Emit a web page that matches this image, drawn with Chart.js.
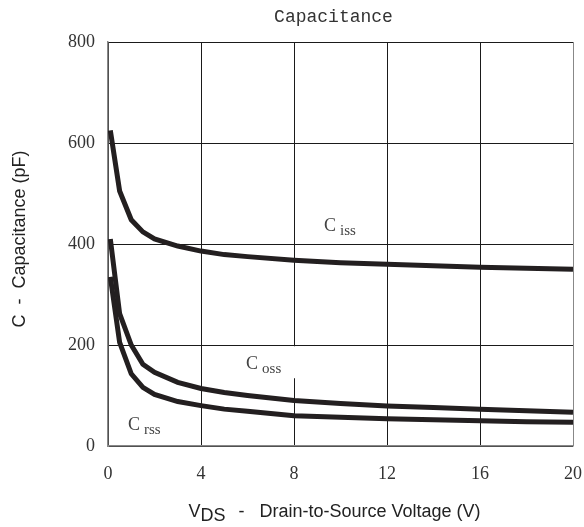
<!DOCTYPE html>
<html>
<head>
<meta charset="utf-8">
<script src="https://cdn.jsdelivr.net/npm/chart.js@4/dist/chart.umd.min.js"></script>
<style>
body{margin:0;background:#fff}
canvas{display:block}
</style>
</head>
<body>
<canvas id="cap" width="584" height="527"></canvas>
<script>

// VDS (V) and capacitances (pF)
const vds  = [0.1, 0.5, 1, 1.5, 2, 3, 4, 5, 6, 8, 10, 12, 14, 16, 18, 20]
const ciss = [625, 505, 448, 424, 410, 396, 386, 379, 375, 368, 363, 360, 357, 354, 352, 350]
const coss = [410, 262, 200, 162, 146, 126, 114, 106, 100, 90, 84, 79, 76, 73, 70, 67]
const crss = [335, 205, 143, 116, 102, 88, 80, 73, 69, 60, 57, 54, 52, 50, 48, 47]

const xTicks = [0, 4, 8, 12, 16, 20]
const yTicks = [0, 200, 400, 600, 800]

// curve names, anchored in data units (V, pF)
const curveNames = [
  {name: "C", sub: "iss", at: [9.29, 426]},
  {name: "C", sub: "oss", at: [5.94, 152]},
  {name: "C", sub: "rss", at: [0.86, 32]}
]

const lineColor = "#231f20"

function series(ys){
  return vds.map((v,i)=>({x:v, y:ys[i]}))
}

function curve(ys){
  return {
    data: series(ys),
    borderColor: lineColor,
    borderWidth: 5,
    pointRadius: 0,
    tension: 0,
    fill: false
  }
}

const texts = {
  id: "texts",
  beforeDatasetsDraw(chart){
    let {ctx, scales:{x, y}} = chart
    ctx.save()
    ctx.fillStyle = "#fff"
    curveNames.forEach(l=>{
      let px = x.getPixelForValue(l.at[0])
      let py = y.getPixelForValue(l.at[1])
      ctx.fillRect(px-6, py-23, 57, 32)
    })
    ctx.restore()
  },
  afterDatasetsDraw(chart){
    let {ctx, chartArea:a, scales:{x, y}} = chart
    ctx.save()

    // curve labels
    ctx.fillStyle = "#444"
    ctx.textAlign = "left"
    ctx.textBaseline = "alphabetic"
    curveNames.forEach(l=>{
      let px = x.getPixelForValue(l.at[0])
      let py = y.getPixelForValue(l.at[1])
      ctx.font = '18px "Liberation Serif"'
      ctx.fillText(l.name, px, py)
      let w = ctx.measureText(l.name).width
      ctx.font = '15px "Liberation Serif"'
      ctx.fillText(l.sub, px+w+4, py+4)
    })

    // title
    ctx.fillStyle = "#333"
    ctx.textAlign = "center"
    ctx.font = '18px "Liberation Mono"'
    ctx.fillText("Capacitance", (a.left+a.right)/2 - 7, a.top - 20)

    // y axis title
    ctx.fillStyle = "#222"
    ctx.font = '18px "Liberation Sans"'
    ctx.save()
    ctx.translate(20, (a.top+a.bottom)/2 - 5)
    ctx.rotate(-Math.PI/2)
    ctx.textBaseline = "middle"
    ctx.fillText("C  -  Capacitance (pF)", 0, 0)
    ctx.restore()

    // x axis title with subscript
    ctx.textAlign = "left"
    ctx.textBaseline = "alphabetic"
    let parts = [["V",0,0],["DS",0,4],["-",13,0],["Drain-to-Source Voltage (V)",15,0]]
    let total = 0
    parts.forEach(p=>{ total += p[1] + ctx.measureText(p[0]).width })
    let cx = (a.left+a.right)/2 - 6 - total/2
    let base = a.bottom + 71
    parts.forEach(p=>{
      cx += p[1]
      ctx.fillText(p[0], cx, base + p[2])
      cx += ctx.measureText(p[0]).width
    })

    ctx.restore()
  }
}

new Chart(document.getElementById("cap"), {
  type: "line",
  data: {
    datasets: [curve(ciss), curve(coss), curve(crss)]
  },
  options: {
    responsive: false,
    animation: false,
    devicePixelRatio: 1,
    layout: {padding: {top: 42, right: 11, left: 0, bottom: 0}},
    plugins: {legend: {display: false}, tooltip: {enabled: false}},
    scales: {
      x: {
        type: "linear",
        min: 0, max: 20,
        afterBuildTicks: s=>{ s.ticks = xTicks.map(v=>({value:v})) },
        afterFit: s=>{ s.height = 81; s.paddingLeft = 0; s.paddingRight = 0 },
        grid: {
          color: c=> c.tick && c.tick.value === 20 ? "#888" : "#1a1a1a",
          lineWidth: 1,
          drawTicks: false
        },
        border: {color: "#888", width: 1.5},
        ticks: {padding: 17, color: "#333", maxRotation: 0, font: {family: "Liberation Serif", size: 18}}
      },
      y: {
        min: 0, max: 800,
        afterBuildTicks: s=>{ s.ticks = yTicks.map(v=>({value:v})) },
        afterFit: s=>{ s.width = 108; s.paddingTop = 0; s.paddingBottom = 0 },
        grid: {color: "#1a1a1a", lineWidth: 1, drawTicks: false},
        border: {color: "#888", width: 1.5},
        ticks: {padding: 13, color: "#333", font: {family: "Liberation Serif", size: 18}}
      }
    }
  },
  plugins: [texts]
})

</script>
</body>
</html>
